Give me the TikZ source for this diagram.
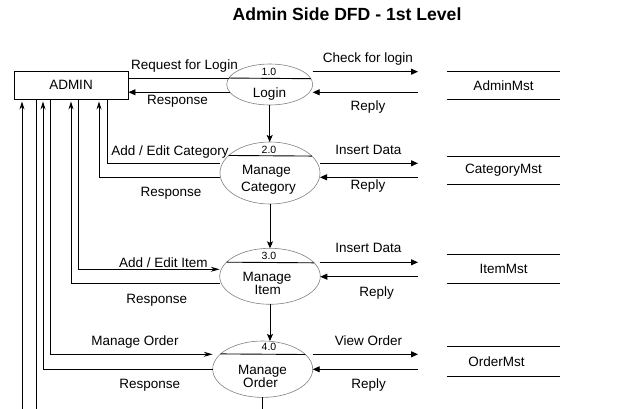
\documentclass[tikz,border=0pt]{standalone}
\usepackage{fontspec}
\setmainfont{Liberation Sans}
\usetikzlibrary{arrows.meta,shapes.geometric}
\begin{document}
\begin{tikzpicture}[x=1pt,y=-1pt,
  lbl/.style={font=\fontsize{13.5}{15}\selectfont, anchor=base, inner sep=0pt, text=black},
  num/.style={font=\fontsize{10.5}{12}\selectfont, anchor=base, inner sep=0pt},
  proc/.style={ellipse, draw=black!50, line width=0.6pt, inner sep=0pt, outer sep=0pt},
  ln/.style={line width=0.9pt},
  tri/.style={ln, -{Triangle[length=7pt,width=6pt]}},
  upar/.style={ln, -{Stealth[length=8pt,width=5pt,inset=2.5pt]}, shorten >=2pt},
  inar/.style={ln, -{Stealth[length=9pt,width=5pt,inset=3pt]}},
  downar/.style={ln, -{Stealth[length=7pt,width=6pt,inset=1.5pt]}},
  store/.style={minimum width=113pt, inner sep=0pt, font=\fontsize{13.5}{15}\selectfont}
]
\useasboundingbox (0,0) rectangle (638,409);

% title
\node[font=\bfseries\fontsize{17.6}{20}\selectfont, anchor=base, inner sep=0pt] (title) at (347,21) {Admin Side DFD - 1st Level};

% external entity
\node[draw, line width=0.9pt, minimum width=114pt, minimum height=28pt, inner sep=0pt,
      font=\fontsize{13.5}{15}\selectfont] (admin) at (71,85) {ADMIN};

% processes
\node[proc, minimum width=86pt, minimum height=41pt] (login) at (269.7,84.5) {};
\node[proc, minimum width=100pt, minimum height=62pt] (cat) at (270,173) {};
\node[proc, minimum width=100.6pt, minimum height=56pt] (item) at (270,276.3) {};
\node[proc, minimum width=100pt, minimum height=56.4pt] (order) at (262.7,369.2) {};

\draw[ln] (login.171.4) -- (login.8.6);
\draw[ln] (cat.157.9) -- (cat.22.1);
\draw[ln] (item.162.1) -- (item.17.9);
\draw[ln] (order.160.7) -- (order.19.3);

\node[num] (n1) at (269,75.7) {1.0};
\node[lbl] (t1) at (269.5,97.8) {Login};
\node[num] (n2) at (269,153.3) {2.0};
\node[lbl] (t2a) at (266.5,174.5) {Manage};
\node[lbl] (t2b) at (268.5,191.2) {Category};
\node[num] (n3) at (269,259.3) {3.0};
\node[lbl] (t3a) at (267,281.2) {Manage};
\node[lbl] (t3b) at (267.7,294.5) {Item};
\node[num] (n4) at (269,350) {4.0};
\node[lbl] (t4a) at (262.5,374.5) {Manage};
\node[lbl] (t4b) at (260.5,387.8) {Order};

% data stores
\node[store, minimum height=27pt] (s1) at (503.5,85.5) {AdminMst};
\node[store, minimum height=27.6pt] (s2) at (503.5,170.5) {CategoryMst};
\node[store, minimum height=28.3pt] (s3) at (503.5,269.2) {ItemMst};
\node[store, minimum height=29.3pt] (s4) at (503.5,361.3) {OrderMst\hspace*{14pt}};
\foreach \s in {s1,s2,s3,s4}{
  \draw[ln] (\s.north west) -- (\s.north east) (\s.south west) -- (\s.south east);
}

% level coordinates
\coordinate (r1a) at (418,71.7);  \coordinate (r1b) at (418,92.3);
\coordinate (r2a) at (418,163.3); \coordinate (r2b) at (418,177.3);
\coordinate (r3a) at (418,262.3); \coordinate (r3b) at (418,276.7);
\coordinate (r4a) at (418,354.3); \coordinate (r4b) at (418,369.3);
\coordinate (l2a) at (0,163.3); \coordinate (l2b) at (0,177.3);
\coordinate (l3a) at (0,269.3); \coordinate (l3b) at (0,283.3);
\coordinate (l4a) at (0,354.3); \coordinate (l4b) at (0,369.3);
\coordinate (bot) at (0,409);
\coordinate (v1) at ([xshift=-49pt]admin.south);
\coordinate (v2) at ([xshift=-35pt]admin.south);

% process <-> store flows
\draw[tri] (r1a -| login.east) -- (r1a);
\draw[tri] (r1b) -- (r1b -| login.east);
\draw[tri] (r2a -| cat.east) -- (r2a);
\draw[tri] (r2b) -- (r2b -| cat.east);
\draw[tri] (r3a -| item.east) -- (r3a);
\draw[tri] (r3b) -- (r3b -| item.east);
\draw[tri] (r4a -| order.east) -- (r4a);
\draw[tri] (r4b) -- (r4b -| order.east);

% admin <-> process flows
\draw[ln] (login.171.4) -- (login.171.4 -| admin.east);
\draw[tri] (login.191.1) -- (login.191.1 -| admin.east);
\draw[ln] (l2a -| cat.west) -| ([xshift=36pt]admin.south);
\draw[upar] (l2b -| cat.west) -| ([xshift=28pt]admin.south);
\draw[inar] ([xshift=7pt]admin.south) |- (l3a -| item.west);
\draw[upar] (l3b -| item.west) -| (admin.south);
\draw[inar] ([xshift=-21pt]admin.south) |- (l4a -| order.west);
\draw[upar] (l4b -| order.west) -| ([xshift=-28pt]admin.south);
\draw[upar] (bot -| v1) -- (v1);
\draw[ln] (bot -| v2) -- (v2);

% process -> process
\draw[downar] (login.south) -- (login.south |- cat.north);
\draw[downar] (cat.south) -- (cat.south |- item.north);
\draw[downar] (item.south) -- (item.south |- order.north);
\draw[ln] (order.south) -- (order.south |- bot);

% labels
\node[lbl] (a1) at (184.5,69.5) {Request for Login};
\node[lbl] (a2) at (177.5,104.5) {Response};
\node[lbl] (a3) at (368,62.8) {Check for login};
\node[lbl] (a4) at (368,111) {Reply};
\node[lbl] (b1) at (170,155.2) {Add / Edit Category};
\node[lbl] (b2) at (171,196.8) {Response};
\node[lbl] (b3) at (368.3,154.5) {Insert Data};
\node[lbl] (b4) at (368,189.5) {Reply};
\node[lbl] (c1) at (163.3,267) {Add / Edit Item};
\node[lbl] (c2) at (156.8,303.8) {Response};
\node[lbl] (c3) at (368.3,252.8) {Insert Data};
\node[lbl] (c4) at (376.7,296.2) {Reply};
\node[lbl] (d1) at (135,345.5) {Manage Order};
\node[lbl] (d2) at (149.7,388.5) {Response};
\node[lbl] (d3) at (368.5,345.5) {View Order};
\node[lbl] (d4) at (368.7,388.5) {Reply};
\end{tikzpicture}
\end{document}
